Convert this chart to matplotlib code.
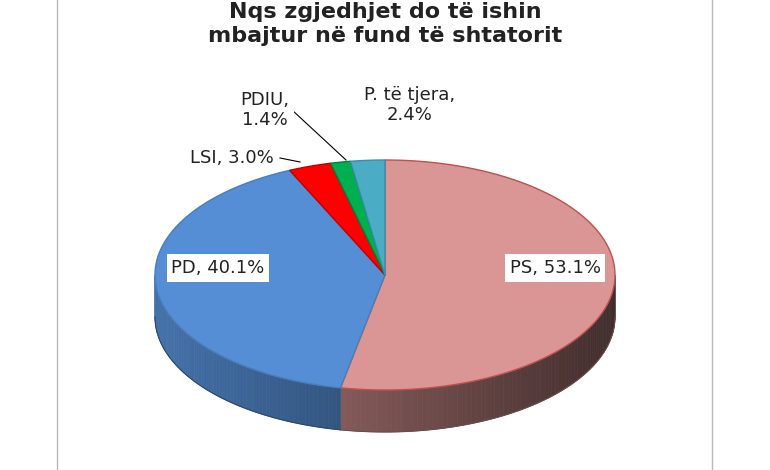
import numpy as np
import matplotlib.pyplot as plt
from matplotlib.patches import Polygon, Rectangle
from matplotlib.colors import to_rgb

labels = ['PS', 'PD', 'LSI', 'PDIU', 'P. të tjera']
values = [53.1, 40.1, 3.0, 1.4, 2.4]
label_text = ['PS, 53.1%', 'PD, 40.1%', 'LSI, 3.0%', 'PDIU,\n1.4%', 'P. të tjera,\n2.4%']
colors = ['#D99694', '#558ED5', '#FF0000', '#00B050', '#4BACC6']
edges = ['#C0504D', '#4A7EBB', '#C00000', '#00803A', '#3A8EA5']

W, H = 770, 470
cx, cy = 385, 470 - 275
rx, ry = 230, 115
depth = 42

fig = plt.figure(figsize=(W / 100, H / 100), dpi=100)
ax = fig.add_axes([0, 0, 1, 1])
ax.set_xlim(0, W)
ax.set_ylim(0, H)
ax.axis('off')

def pt(a, dy=0):
    r = np.radians(a)
    return cx + rx * np.cos(r), cy + ry * np.sin(r) - dy

# angles going clockwise from top
total = sum(values)
starts, ends = [], []
a = 90.0
for v in values:
    starts.append(a)
    a -= 360 * v / total
    ends.append(a)

# side walls (front half only)
for s, e, c in zip(starts, ends, colors):
    for shift in (0, -360, 360):
        l2, h2 = max(e + shift, -180), min(s + shift, 0)
        if l2 < h2:
            ang = np.linspace(l2, h2, 80)
            base = np.array(to_rgb(c))
            for k in range(len(ang) - 1):
                f = 0.8 - 0.5 * (np.cos(np.radians(ang[k])) + 1) / 2
                poly = [pt(ang[k]), pt(ang[k + 1]), pt(ang[k + 1], depth), pt(ang[k], depth)]
                ax.add_patch(Polygon(poly, closed=True, fc=base * f, ec=base * f, lw=0.5))
            bot = [pt(t, depth) for t in ang]
            ax.plot([p[0] for p in bot], [p[1] for p in bot], color=base * 0.5, lw=0.8)

# top faces
for s, e, c, ec in zip(starts, ends, colors, edges):
    ang = np.linspace(s, e, 200)
    poly = [(cx, cy)] + [pt(t) for t in ang]
    ax.add_patch(Polygon(poly, closed=True, fc=c, ec=ec, lw=1.0))

# labels
label_pos = [(555, 470 - 268), (218, 470 - 268), (232, 470 - 158), (265, 470 - 110), (410, 470 - 105)]
for (x, y), t in zip(label_pos, label_text):
    ax.text(x, y, t, ha='center', va='center', fontsize=13, color='#222222',
            bbox=dict(boxstyle='square,pad=0.25', fc='white', ec='none'))

# leader lines
ax.plot([280, 300], [470 - 158, 470 - 162], color='black', lw=0.8)
ax.plot([292, 346], [470 - 110, 470 - 160], color='black', lw=0.8)

ax.text(385, 470 - 2, 'Nqs zgjedhjet do të ishin\nmbajtur në fund të shtatorit',
        ha='center', va='top', fontsize=16, fontweight='bold', color='#222222',
        linespacing=1.25)

ax.add_patch(Rectangle((57, -5), 655, 490, fill=False, ec='#BBBBBB', lw=1))

fig.savefig('out.png', dpi=100)
